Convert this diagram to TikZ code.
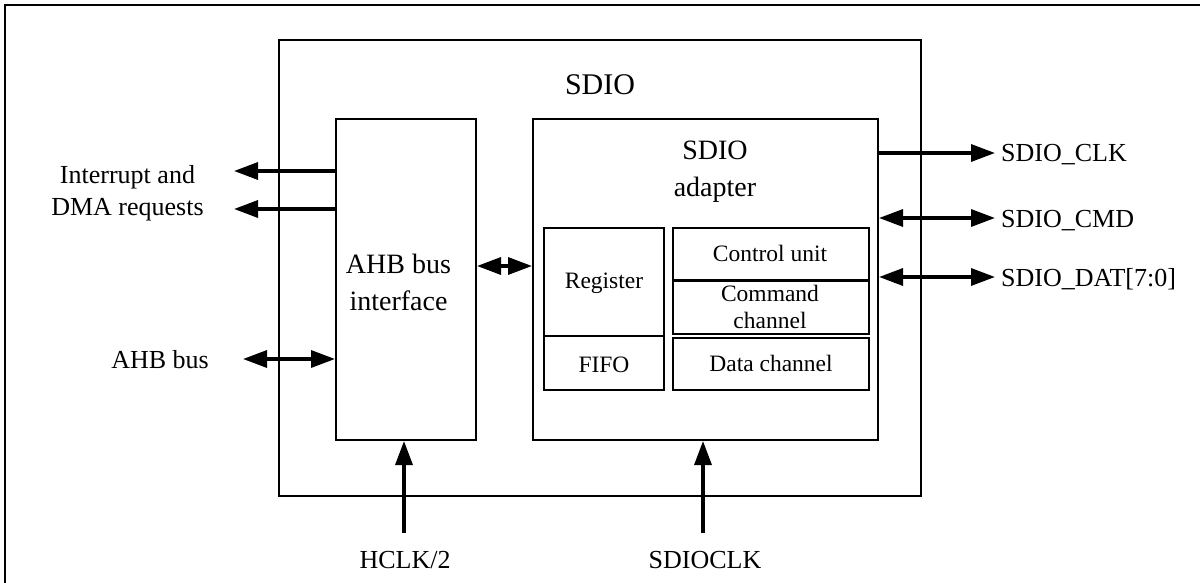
\documentclass[tikz,border=0pt]{standalone}
\usepackage{fontspec}
\setmainfont{Liberation Serif}
\usetikzlibrary{arrows.meta}
\begin{document}
\begin{tikzpicture}[x=1pt,y=-1pt,
  frame/.style={draw,line width=2pt,inner sep=0pt,anchor=north west},
  cell/.style={draw,line width=2.4pt,inner sep=0pt,anchor=north west},
  lbl/.style={inner sep=0pt,font=\fontsize{26}{32}\selectfont,text height=18pt,text depth=0pt},
  cellt/.style={inner sep=0pt,font=\fontsize{23.5}{27}\selectfont},
  arr/.style={line width=3.3pt,-{Triangle[length=24pt,width=17pt]}},
  darr/.style={line width=3.3pt,{Triangle[length=24pt,width=17pt]}-{Triangle[length=24pt,width=17pt]}}]
\useasboundingbox (0,0) rectangle (1200,583);
% outer frame (cropped at right and bottom)
\draw[line width=2pt] (1200,5) -- (5,5) -- (5,583);
% SDIO block
\node[frame,minimum width=642pt,minimum height=456pt] (sdio) at (278,39) {};
\node[anchor=base,inner sep=0pt,font=\fontsize{30}{34}\selectfont] (sdiot) at (600,95) {SDIO};
% AHB bus interface
\node[frame,minimum width=140pt,minimum height=321pt] (ahb) at (335,118) {};
\node[anchor=north,inner sep=0pt,align=center,font=\fontsize{28}{37}\selectfont] (ahbt) at (398.5,254) {AHB bus\\interface};
% SDIO adapter
\node[frame,minimum width=345pt,minimum height=321pt] (adapter) at (532,118) {};
\node[anchor=north,inner sep=0pt,align=center,font=\fontsize{28}{37}\selectfont] (adaptert) at (715,141) {SDIO\\adapter};
% inner cells
\node[cell,minimum width=120pt,minimum height=108pt] (reg) at (543,227) {};
\node[cell,minimum width=120pt,minimum height=54pt] (fifo) at (543,335) {};
\node[cell,minimum width=196pt,minimum height=52pt] (ctrl) at (672,227) {};
\node[cell,minimum width=196pt,minimum height=53pt] (cmd) at (672,280) {};
\node[cell,minimum width=196pt,minimum height=52pt] (data) at (672,337) {};
\node[cellt,anchor=base] (regt) at (604,288) {Register};
\node[cellt,anchor=base] (fifot) at (604,372) {FIFO};
\node[cellt,anchor=base] (ctrlt) at (770,261) {Control unit};
\node[cellt,anchor=north,align=center] (cmdt) at (770,285) {Command\\channel};
\node[cellt,anchor=base] (datat) at (771,371) {Data channel};
% left side
\node[inner sep=0pt,anchor=north,align=center,font=\fontsize{26}{32}\selectfont] (irq) at (127.5,165) {Interrupt and\\DMA requests};
\coordinate (irq1) at (234,171);
\coordinate (irq2) at (234,209);
\draw[arr] (irq1 -| ahb.west) -- (irq1);
\draw[arr] (irq2 -| ahb.west) -- (irq2);
\node[lbl,anchor=east] (ahbbus) at (209,359) {AHB bus};
\draw[darr] ([xshift=34pt]ahbbus.east) -- (ahbbus.east -| ahb.west);
% AHB <-> adapter
\coordinate (busmid) at (503,266);
\draw[darr] (busmid -| ahb.east) -- (busmid -| adapter.west);
% right side
\node[lbl,anchor=west] (clk) at (1001,153) {SDIO\_CLK};
\node[lbl,anchor=west] (cmdl) at (1001,218) {SDIO\_CMD};
\node[lbl,anchor=west] (dat) at (1001,277) {SDIO\_DAT[7:0]};
\draw[arr] (clk.west -| adapter.east) -- ([xshift=-6pt]clk.west);
\draw[darr] (cmdl.west -| adapter.east) -- ([xshift=-6pt]cmdl.west);
\draw[darr] (dat.west -| adapter.east) -- ([xshift=-6pt]dat.west);
% bottom clocks
\node[lbl,anchor=north] (hclk) at (405,550) {HCLK/2};
\node[lbl,anchor=north] (sdioclk) at (705,550) {SDIOCLK};
\draw[arr] ([xshift=-1pt,yshift=17pt]hclk.north) -- ([xshift=-1pt]hclk.north |- ahb.south);
\draw[arr] ([xshift=-2pt,yshift=17pt]sdioclk.north) -- ([xshift=-2pt]sdioclk.north |- adapter.south);
\end{tikzpicture}
\end{document}
